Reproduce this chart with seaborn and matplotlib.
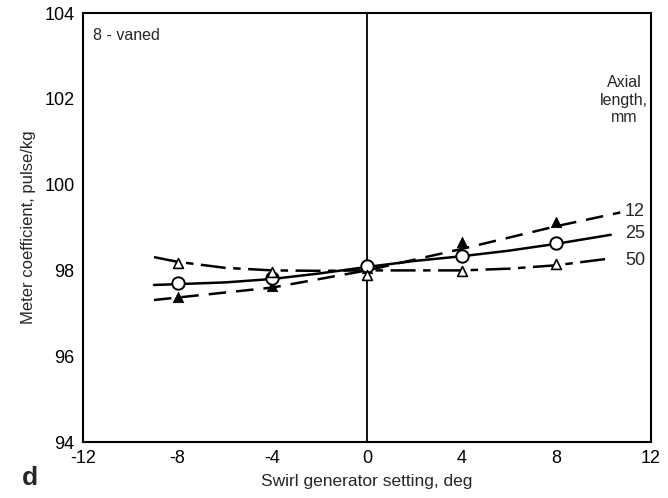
import numpy as np
import pandas as pd
import matplotlib
matplotlib.use("Agg")
import matplotlib.pyplot as plt
import seaborn as sns

# =========================
# Data
# =========================
swirl_deg = [-8, -4, 0, 4, 8]
coef_12 = [97.37, 97.64, 98.05, 98.67, 99.13]
coef_25 = [97.70, 97.82, 98.11, 98.33, 98.64]
coef_50 = [98.18, 97.97, 97.89, 97.99, 98.15]

# faired curves, points
curve_x_12 = [-9.0, -4.0, 0.0, 4.0, 8.0, 10.7]
curve_y_12 = [97.31, 97.60, 98.00, 98.50, 99.03, 99.35]
curve_x_25 = [-9.0, -6.0, -4.0, -2.0, 0.0, 2.0, 4.0, 6.0, 8.0, 10.3]
curve_y_25 = [97.66, 97.72, 97.80, 97.93, 98.08, 98.22, 98.33, 98.46, 98.62, 98.83]
curve_x_50 = [-9.0, -8.0, -6.0, -4.0, -2.0, 0.0, 2.0, 4.0, 6.0, 8.0, 10.3]
curve_y_50 = [98.31, 98.20, 98.06, 98.00, 97.99, 98.00, 98.00, 98.00, 98.04, 98.12, 98.28]

x_ticks = [-12, -8, -4, 0, 4, 8, 12]
y_ticks = [94, 96, 98, 100, 102, 104]

sns.set_style("white")
plt.rcParams['font.family'] = ['Liberation Sans', 'DejaVu Sans']

fig = plt.figure(figsize=(6.68, 4.98), dpi=100)
ax = fig.add_axes([83 / 668, 1 - 442 / 498, (651 - 83) / 668, (442 - 13) / 498])

# curves
sns.lineplot(x=curve_x_12, y=curve_y_12, ax=ax, color="black", lw=1.8,
             linestyle=(0, (7, 4)))
sns.lineplot(x=curve_x_25, y=curve_y_25, ax=ax, color="black", lw=1.8)
sns.lineplot(x=curve_x_50, y=curve_y_50, ax=ax, color="black", lw=1.8,
             linestyle=(0, (10, 3, 3, 3)))

# data points
sns.scatterplot(x=swirl_deg, y=coef_12, ax=ax, marker="^", s=55,
                 color="black", edgecolor="black", zorder=5)
sns.scatterplot(x=swirl_deg, y=coef_25, ax=ax, marker="o", s=80,
                 facecolor="white", edgecolor="black", linewidth=1.4, zorder=5)
sns.scatterplot(x=swirl_deg, y=coef_50, ax=ax, marker="^", s=50,
                 facecolor="white", edgecolor="black", linewidth=1.2, zorder=5)

ax.axvline(0, color="black", lw=1.3, zorder=1)

ax.set_xlim(-12, 12)
ax.set_ylim(94, 104)
ax.set_xticks(x_ticks)
ax.set_yticks(y_ticks)
ax.set_xticklabels([str(t) for t in x_ticks])
ax.tick_params(direction="in", length=7, width=1.2, labelsize=13, color="black",
               labelcolor="black", pad=6)
for s in ax.spines.values():
    s.set_color("black")
    s.set_linewidth(1.5)

ax.set_xlabel("Swirl generator setting, deg", fontsize=12.5, labelpad=5)
ax.set_ylabel("Meter coefficient, pulse/kg", fontsize=12, labelpad=6)

ax.text(0.018, 0.965, "8 - vaned", transform=ax.transAxes, fontsize=11.5,
        ha="left", va="top")
ax.text(0.953, 0.855, "Axial\nlength,\nmm", transform=ax.transAxes, fontsize=11.5,
        ha="center", va="top", linespacing=1.2)
ax.text(10.9, 99.38, "12", fontsize=13, ha="left", va="center")
ax.text(10.9, 98.85, "25", fontsize=13, ha="left", va="center")
ax.text(10.9, 98.22, "50", fontsize=13, ha="left", va="center")

fig.text(22 / 668, 1 - 478 / 498, "d", fontsize=19, fontweight="bold",
         ha="left", va="center")

plt.savefig("out.png", dpi=100)
plt.close()
